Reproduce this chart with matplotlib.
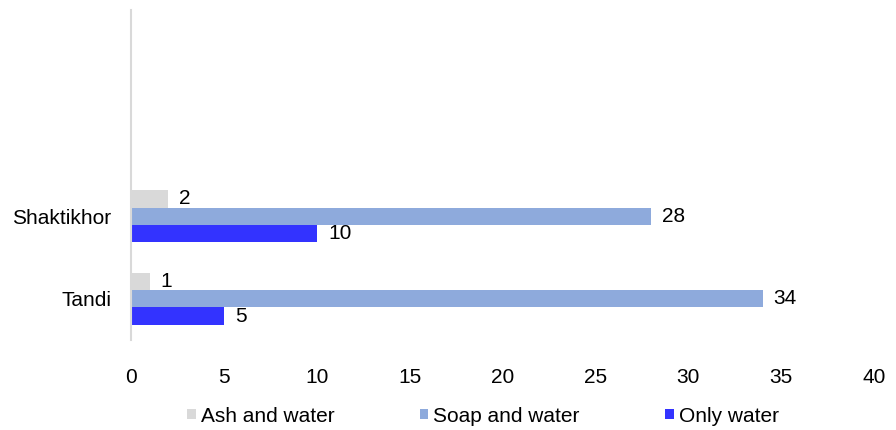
import matplotlib
matplotlib.use("Agg")
import matplotlib.pyplot as plt
import numpy as np

plt.rcParams['font.family'] = ['Liberation Sans', 'DejaVu Sans']

categories = ['Tandi', 'Shaktikhor', '', '']
series_names = ['Ash and water', 'Soap and water', 'Only water']
ash = [1, 2, None, None]
soap = [34, 28, None, None]
only = [5, 10, None, None]
colors = ['#d9d9d9', '#8eaadc', '#3333ff']
xticks = [0, 5, 10, 15, 20, 25, 30, 35, 40]

fig = plt.figure(figsize=(8.96, 4.30), dpi=100)
ax = fig.add_axes([131/896, 1-340/430, (874-131)/896, 330/430])

h = 0.21
offsets = [h, 0, -h]
ypos = np.arange(len(categories))
for vals, name, col, off in zip([ash, soap, only], series_names, colors, offsets):
    ys = [y + off for y, v in zip(ypos, vals) if v is not None]
    vs = [v for v in vals if v is not None]
    ax.barh(ys, vs, height=h, color=col, label=name)
    for y, v in zip(ys, vs):
        ax.text(v + 0.6, y, str(v), va='center', ha='left', fontsize=15, color='#000000')

ax.set_ylim(-0.5, 3.5)
ax.set_xlim(0, 40)
ax.set_yticks(ypos)
ax.set_yticklabels(categories, fontsize=15)
ax.set_xticks(xticks)
ax.set_xticklabels([str(t) for t in xticks], fontsize=15)
ax.tick_params(axis='both', length=0)
ax.tick_params(axis='x', pad=20)
ax.tick_params(axis='y', pad=14)
for s in ['top', 'right', 'bottom']:
    ax.spines[s].set_visible(False)
ax.spines['left'].set_color('#d9d9d9')
ax.spines['left'].set_linewidth(1.5)

handles, labels = ax.get_legend_handles_labels()
fig.legend(handles, labels, loc='center', bbox_to_anchor=(483/896, 1-416/430), ncol=3,
           frameon=False, fontsize=15, handlelength=0.4, handleheight=0.4,
           handletextpad=0.25, columnspacing=4.1)

fig.savefig('out.png', dpi=100)
